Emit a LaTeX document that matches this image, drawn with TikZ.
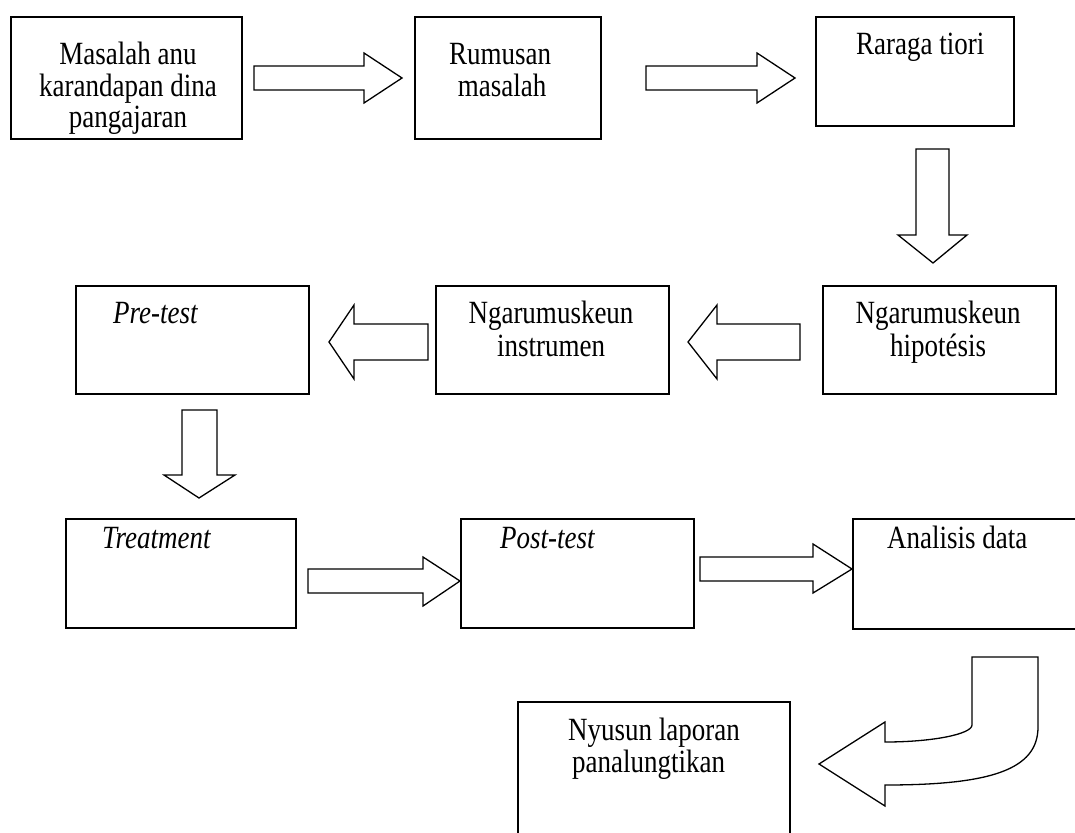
\documentclass[tikz,border=0pt]{standalone}
\usepackage{fontspec}
\usepackage{graphicx}
\setmainfont{Liberation Serif}
\newcommand\vstr[1]{\scalebox{1}[1.2]{#1}}
\begin{document}
\begin{tikzpicture}[x=1pt,y=-1pt,
  box/.style={draw, line width=1.6pt, rectangle, inner sep=0pt, anchor=north west},
  blk/.style={draw, line width=1.3pt, line join=miter, fill=white},
  lbl/.style={inner sep=0pt, font=\fontsize{27}{32}\selectfont, anchor=base},
  lbll/.style={inner sep=0pt, font=\fontsize{27}{32}\selectfont, anchor=base west}]
\useasboundingbox[fill=white] (0,0) rectangle (1075,832);

% boxes
\node[box, minimum width=231pt, minimum height=122pt] (b1) at (10,16) {};
\node[box, minimum width=186pt, minimum height=122pt] (b2) at (414,16) {};
\node[box, minimum width=198pt, minimum height=109pt] (b3) at (815,16) {};
\node[box, minimum width=233pt, minimum height=108pt] (b4) at (822,285) {};
\node[box, minimum width=233pt, minimum height=108pt] (b5) at (435,285) {};
\node[box, minimum width=233pt, minimum height=108pt] (b6) at (75,285) {};
\node[box, minimum width=230pt, minimum height=109pt] (b7) at (65,518) {};
\node[box, minimum width=233pt, minimum height=109pt] (b8) at (460,518) {};
\node[box, minimum width=240pt, minimum height=110pt] (b9) at (852,518) {};
\node[box, minimum width=272pt, minimum height=140pt] (b10) at (517,701) {};

% texts
\node[lbl] (t1a) at (128,65) {\vstr{Masalah anu}};
\node[lbl] (t1b) at (128,96.5) {\vstr{karandapan dina}};
\node[lbl] (t1c) at (128,128) {\vstr{pangajaran}};
\node[lbl] (t2a) at (500,65) {\vstr{Rumusan}};
\node[lbl] (t2b) at (502,97) {\vstr{masalah}};
\node[lbll] (t3) at (856,55) {\vstr{Raraga tiori}};
\node[lbl] (t4a) at (938,323) {\vstr{Ngarumuskeun}};
\node[lbl] (t4b) at (938,356) {\vstr{hipotésis}};
\node[lbl] (t5a) at (551,323) {\vstr{Ngarumuskeun}};
\node[lbl] (t5b) at (551,356) {\vstr{instrumen}};
\node[lbll] (t6) at (113,323) {\vstr{\itshape Pre-test}};
\node[lbll] (t7) at (102,548) {\vstr{\itshape Treatment}};
\node[lbll] (t8) at (500,548) {\vstr{\itshape Post-test}};
\node[lbll] (t9) at (887,548) {\vstr{Analisis data}};
\node[lbll] (t10a) at (568,740) {\vstr{Nyusun laporan}};
\node[lbll] (t10b) at (572,772) {\vstr{panalungtikan}};

% block arrows
\draw[blk] (254,66) -- (364,66) -- (364,53) -- (402,78) -- (364,103) -- (364,90) -- (254,90) -- cycle;
\draw[blk] (646,66) -- (757,66) -- (757,53) -- (795,78) -- (757,103) -- (757,90) -- (646,90) -- cycle;
\draw[blk] (916,149) -- (949,149) -- (949,235) -- (967,235) -- (933,263) -- (898,235) -- (916,235) -- cycle;
\draw[blk] (800,324) -- (717,324) -- (717,305) -- (688,342) -- (717,379) -- (717,360) -- (800,360) -- cycle;
\draw[blk] (428,324) -- (354,324) -- (354,305) -- (329,342) -- (354,379) -- (354,360) -- (428,360) -- cycle;
\draw[blk] (182,410) -- (217,410) -- (217,475) -- (235,475) -- (199,498) -- (164,475) -- (182,475) -- cycle;
\draw[blk] (308,569) -- (423,569) -- (423,557) -- (460,581) -- (423,606) -- (423,593) -- (308,593) -- cycle;
\draw[blk] (700,557) -- (813,557) -- (813,544) -- (852,569) -- (813,593) -- (813,581) -- (700,581) -- cycle;
\draw[blk] (972,657) -- (1038,657) -- (1038,727)
  .. controls (1038,770) and (990,785) .. (885,785)
  -- (885,806) -- (819,764) -- (885,722) -- (885,742)
  .. controls (933,742) and (972,734) .. (972,725) -- cycle;
\end{tikzpicture}
\end{document}
